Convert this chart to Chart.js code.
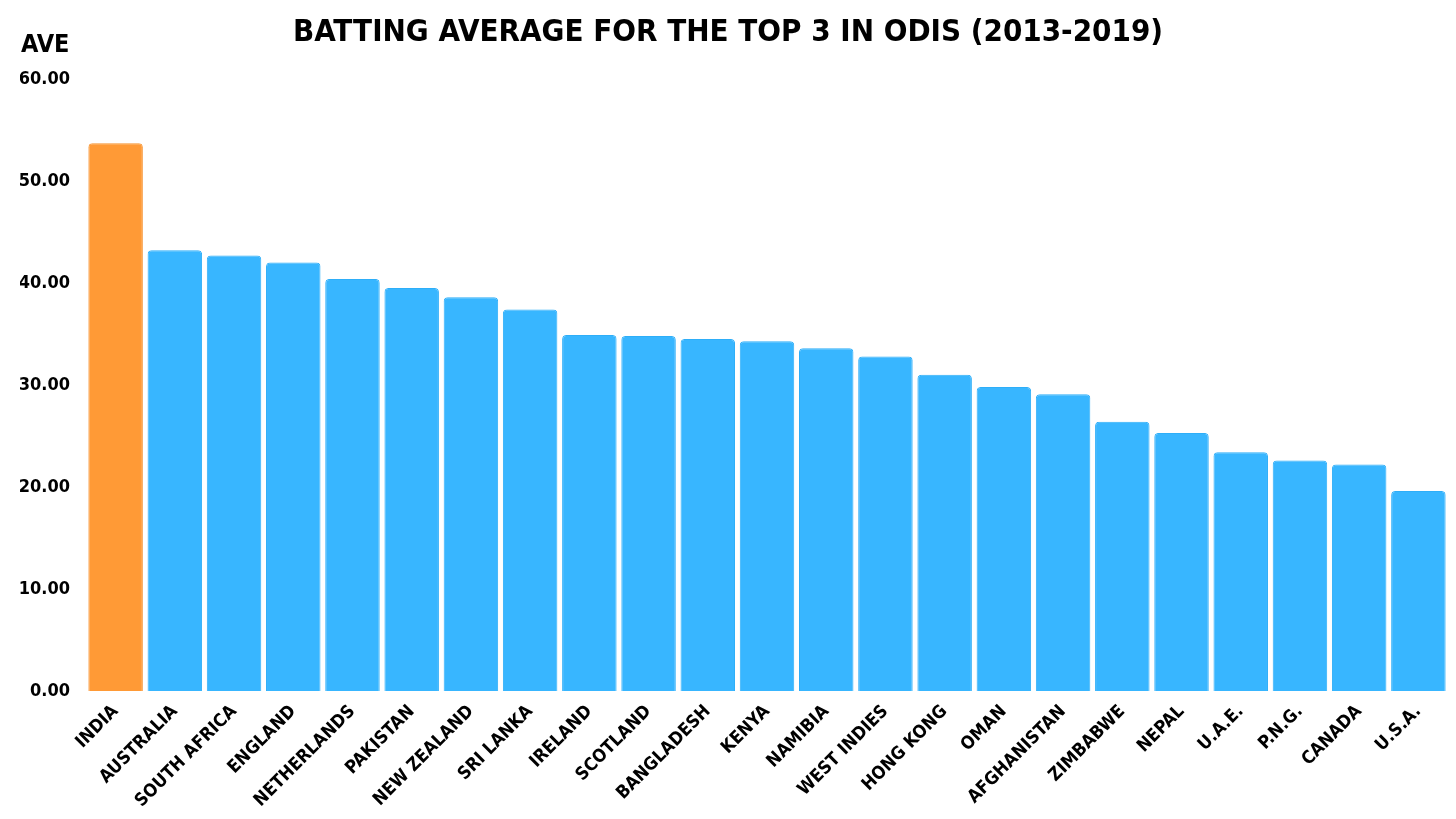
<!DOCTYPE html>
<html>
<head>
<meta charset="utf-8">
<script src="https://cdn.jsdelivr.net/npm/chart.js@4.4.0/dist/chart.umd.min.js"></script>
<style>
  html, body { margin: 0; padding: 0; background: #fff; }
  #wrap { width: 1456px; height: 819px; position: relative; }
</style>
</head>
<body>
<div id="wrap"><canvas id="chart"></canvas></div>
<script>
const FONT = "'DejaVu Sans Condensed', 'DejaVu Sans', sans-serif";

const countries = ['INDIA', 'AUSTRALIA', 'SOUTH AFRICA', 'ENGLAND', 'NETHERLANDS', 'PAKISTAN',
  'NEW ZEALAND', 'SRI LANKA', 'IRELAND', 'SCOTLAND', 'BANGLADESH', 'KENYA', 'NAMIBIA',
  'WEST INDIES', 'HONG KONG', 'OMAN', 'AFGHANISTAN', 'ZIMBABWE', 'NEPAL', 'U.A.E.',
  'P.N.G.', 'CANADA', 'U.S.A.'];
const averages = [53.7, 43.2, 42.7, 42.0, 40.4, 39.5, 38.6, 37.4, 34.9, 34.8, 34.5, 34.3,
  33.6, 32.8, 31.0, 29.8, 29.1, 26.4, 25.3, 23.4, 22.6, 22.2, 19.6];
const yTicks = [0, 10, 20, 30, 40, 50, 60];
const highlight = 'INDIA';

const chartTitle = 'BATTING AVERAGE FOR THE TOP 3 IN ODIS (2013-2019)';
const yLabel = 'AVE';

// draws the big title and the little "AVE" over the y axis
const headerPlugin = {
  id: 'header',
  afterDraw(chart) {
    const ctx = chart.ctx;
    ctx.save();
    ctx.fillStyle = '#000';
    ctx.textBaseline = 'middle';
    ctx.textAlign = 'center';
    ctx.font = 'bold 31px ' + FONT;
    ctx.fillText(chartTitle, 728, 33);
    ctx.textAlign = 'left';
    ctx.font = 'bold 25px ' + FONT;
    ctx.fillText(yLabel, 21, 45);
    ctx.restore();
  }
};

const ctx = document.getElementById('chart').getContext('2d');
new Chart(ctx, {
  type: 'bar',
  data: {
    labels: countries,
    datasets: [{
      data: averages,
      backgroundColor: countries.map(c => c === highlight ? '#ff9a36' : '#38b6ff'),
      borderColor: countries.map(c => c === highlight ? '#f7922e' : '#2eaef8'),
      borderWidth: 1,
      borderRadius: { topLeft: 4, topRight: 4 },
      borderSkipped: 'bottom',
      barPercentage: 0.92,
      categoryPercentage: 1.0
    }]
  },
  options: {
    responsive: true,
    maintainAspectRatio: false,
    animation: false,
    layout: { padding: { top: 79, right: 8, left: 20, bottom: 0 } },
    plugins: {
      legend: { display: false },
      tooltip: { enabled: false }
    },
    scales: {
      x: {
        grid: { display: false },
        border: { display: false },
        ticks: {
          color: '#000',
          font: { family: FONT, size: 18, weight: 'bold' },
          maxRotation: 45,
          minRotation: 45,
          autoSkip: false,
          padding: 2
        },
        afterFit(scale) { scale.height = 128; }
      },
      y: {
        min: 0,
        max: 60,
        grid: { display: false },
        border: { display: false },
        afterBuildTicks(scale) { scale.ticks = yTicks.map(v => ({ value: v })); },
        afterFit(scale) { scale.width = 66; },
        ticks: {
          color: '#000',
          padding: 8,
          font: { family: FONT, size: 18, weight: 'bold' },
          callback: v => v.toFixed(2)
        }
      }
    }
  },
  plugins: [headerPlugin]
});
</script>
</body>
</html>
